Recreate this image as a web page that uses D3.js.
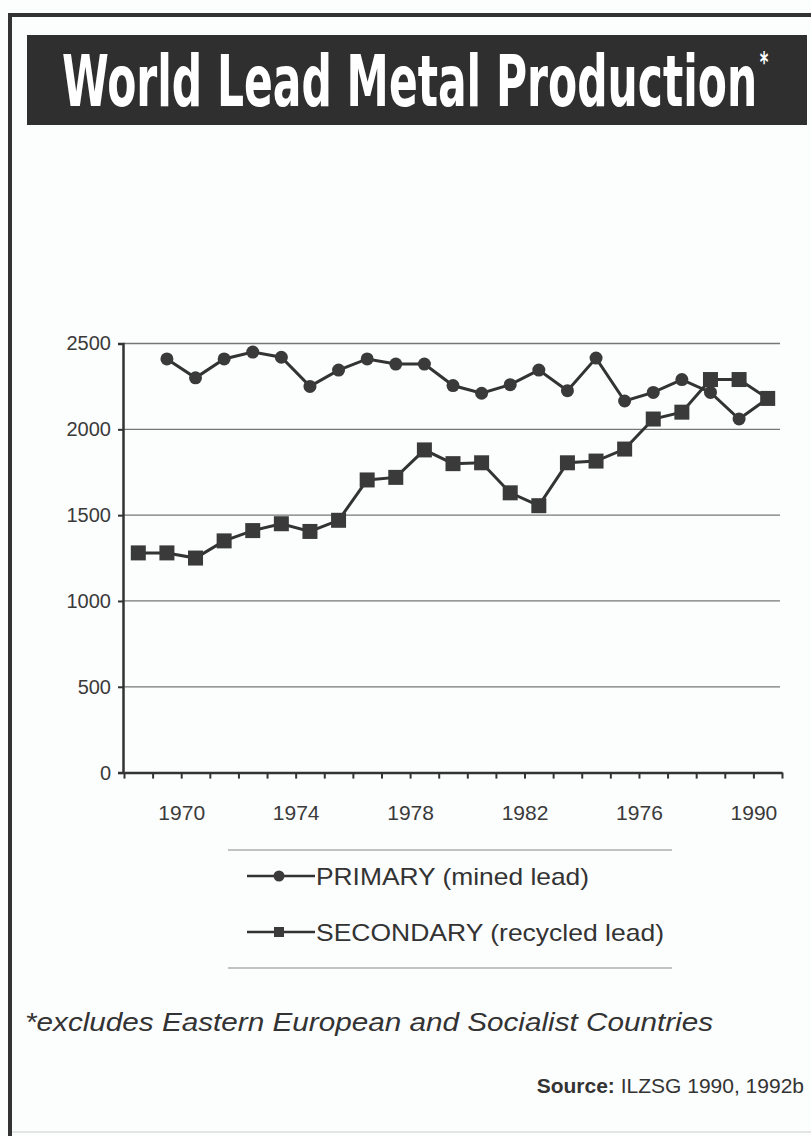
<!DOCTYPE html>
<html>
<head>
<meta charset="utf-8">
<script src="https://cdn.jsdelivr.net/npm/d3@7"></script>
<style>
  body { margin: 0; background: #fcfdfd; }
  svg { display: block; }
</style>
</head>
<body>
<div id="chart"></div>
<script>
// values (thousand tonnes), one slot per year
var primary = [null, 2410, 2300, 2410, 2450, 2420, 2250, 2345, 2410, 2380, 2380, 2255,
               2210, 2260, 2345, 2225, 2415, 2165, 2215, 2290, 2215, 2060, 2180];
var secondary = [1280, 1280, 1250, 1350, 1410, 1450, 1405, 1470, 1705, 1720, 1880, 1800,
                 1805, 1630, 1555, 1805, 1815, 1885, 2060, 2100, 2290, 2290, 2180];
var tickLabels = ["1970", "1974", "1978", "1982", "1976", "1990"];
var tickSlots = [2, 6, 10, 14, 18, 22];
var yTicks = [0, 500, 1000, 1500, 2000, 2500];

var W = 811, H = 1136;
var ink = "#333";

var svg = d3.select("#chart")
  .append("svg")
    .attr("width", W)
    .attr("height", H);

svg.append("rect")
  .attr("width", W).attr("height", H)
  .attr("fill", "#fcfdfd");

// outer frame (left + top dark, bottom faint)
svg.append("line").attr("x1", 10).attr("x2", 10).attr("y1", 13).attr("y2", H)
  .attr("stroke", ink).attr("stroke-width", 4);
svg.append("line").attr("x1", 8).attr("x2", W).attr("y1", 15).attr("y2", 15)
  .attr("stroke", ink).attr("stroke-width", 4);
svg.append("line").attr("x1", 12).attr("x2", W).attr("y1", 1132).attr("y2", 1132)
  .attr("stroke", "#ccc").attr("stroke-width", 1);

// title bar
svg.append("rect")
  .attr("x", 27).attr("y", 35)
  .attr("width", 780).attr("height", 90)
  .attr("fill", "#2f2f2f");

var title = svg.append("text")
  .style("font-family", "'Liberation Sans Narrow', 'DejaVu Sans Condensed', sans-serif")
  .style("font-weight", "bold")
  .style("font-size", "72px")
  .attr("fill", "#fff");
title.append("tspan").text("World Lead Metal Production");
title.append("tspan")
  .attr("dx", 4).attr("dy", -34)
  .style("font-size", "28px")
  .text("*");

// squeeze the title so it spans the same width as the original
var natural = title.node().getComputedTextLength();
title.attr("transform", "translate(62,106) scale(" + (704 / natural) + ",1)");

// scales
var x = d3.scaleLinear()
  .domain([0, primary.length])
  .range([124, 782]);

var y = d3.scaleLinear()
  .domain([0, 2500])
  .range([772.6, 343.5]);

function cx(i) { return x(i + 0.5); }

// gridlines
svg.append("g")
  .selectAll("line")
  .data(yTicks.slice(1))
  .enter()
  .append("line")
    .attr("x1", 124).attr("x2", 780)
    .attr("y1", function (d) { return y(d); })
    .attr("y2", function (d) { return y(d); })
    .attr("stroke", "#777")
    .attr("stroke-width", 1.3);

// Y axis
var yAxis = svg.append("g")
  .attr("transform", "translate(123,0)")
  .call(d3.axisLeft(y).tickValues(yTicks).tickFormat(d3.format("d")).tickSize(5).tickPadding(7));

yAxis.select(".domain").attr("stroke", ink).attr("stroke-width", 2.5);
yAxis.selectAll(".tick line").attr("stroke", ink).attr("stroke-width", 2);
yAxis.selectAll(".tick text")
  .style("font-family", "'Liberation Sans', Arial, sans-serif")
  .style("font-size", "20px")
  .attr("fill", "#3a3a3a");

// X axis: a tick at every slot edge, labels every fourth edge
var xAxis = svg.append("g")
  .attr("transform", "translate(0," + y(0) + ")")
  .call(d3.axisBottom(x)
    .tickValues(d3.range(primary.length + 1))
    .tickSize(6)
    .tickSizeOuter(0)
    .tickPadding(26)
    .tickFormat(function (d) {
      var k = tickSlots.indexOf(d);
      return k < 0 ? "" : tickLabels[k];
    }));

xAxis.select(".domain").attr("stroke", ink).attr("stroke-width", 2.5);
xAxis.selectAll(".tick line").attr("stroke", ink).attr("stroke-width", 2);
xAxis.selectAll(".tick text")
  .style("font-family", "'Liberation Sans', Arial, sans-serif")
  .style("font-size", "21px")
  .attr("fill", "#3a3a3a");

// lines
var line = d3.line()
  .defined(function (d) { return d != null; })
  .x(function (d, i) { return cx(i); })
  .y(function (d) { return y(d); });

svg.append("path")
  .datum(primary)
  .attr("d", line)
  .attr("fill", "none")
  .attr("stroke", ink)
  .attr("stroke-width", 3);

svg.append("path")
  .datum(secondary)
  .attr("d", line)
  .attr("fill", "none")
  .attr("stroke", ink)
  .attr("stroke-width", 3);

// markers (keep the slot index with each value)
var primaryPts = primary
  .map(function (d, i) { return { v: d, i: i }; })
  .filter(function (p) { return p.v != null; });

svg.append("g")
  .selectAll("circle")
  .data(primaryPts)
  .enter()
  .append("circle")
    .attr("cx", function (p) { return cx(p.i); })
    .attr("cy", function (p) { return y(p.v); })
    .attr("r", 6.5)
    .attr("fill", "#3a3a3a");

svg.append("g")
  .selectAll("rect")
  .data(secondary)
  .enter()
  .append("rect")
    .attr("x", function (d, i) { return cx(i) - 7.5; })
    .attr("y", function (d) { return y(d) - 7.5; })
    .attr("width", 15)
    .attr("height", 15)
    .attr("fill", "#3a3a3a");

// legend
svg.append("line").attr("x1", 228).attr("x2", 672).attr("y1", 850).attr("y2", 850)
  .attr("stroke", "#888").attr("stroke-width", 1.2);
svg.append("line").attr("x1", 228).attr("x2", 672).attr("y1", 968).attr("y2", 968)
  .attr("stroke", "#888").attr("stroke-width", 1.2);

var legend = [
  { name: "PRIMARY (mined lead)", y: 876, shape: "circle", len: 273 },
  { name: "SECONDARY (recycled lead)", y: 932, shape: "square", len: 348 }
];

legend.forEach(function (l) {
  svg.append("line")
    .attr("x1", 247).attr("x2", 315)
    .attr("y1", l.y).attr("y2", l.y)
    .attr("stroke", ink).attr("stroke-width", 2.5);
  if (l.shape === "circle") {
    svg.append("circle").attr("cx", 279).attr("cy", l.y).attr("r", 5.5).attr("fill", "#3a3a3a");
  } else {
    svg.append("rect").attr("x", 274).attr("y", l.y - 5).attr("width", 10).attr("height", 10)
      .attr("fill", "#3a3a3a");
  }
  svg.append("text")
    .attr("x", 316).attr("y", l.y + 8.5)
    .attr("textLength", l.len)
    .attr("lengthAdjust", "spacingAndGlyphs")
    .style("font-family", "'Liberation Sans', Arial, sans-serif")
    .style("font-size", "24px")
    .attr("fill", "#333")
    .text(l.name);
});

// footnote and source
svg.append("text")
  .attr("x", 25).attr("y", 1031)
  .attr("textLength", 688)
  .attr("lengthAdjust", "spacingAndGlyphs")
  .style("font-family", "'Liberation Sans', Arial, sans-serif")
  .style("font-style", "italic")
  .style("font-size", "25px")
  .attr("fill", "#333")
  .text("*excludes Eastern European and Socialist Countries");

var src = svg.append("text")
  .attr("x", 804).attr("y", 1093)
  .attr("text-anchor", "end")
  .style("font-family", "'Liberation Sans', Arial, sans-serif")
  .style("font-size", "21px")
  .attr("fill", "#333");
src.append("tspan").style("font-weight", "bold").text("Source:");
src.append("tspan").text(" ILZSG 1990, 1992b");
</script>
</body>
</html>
